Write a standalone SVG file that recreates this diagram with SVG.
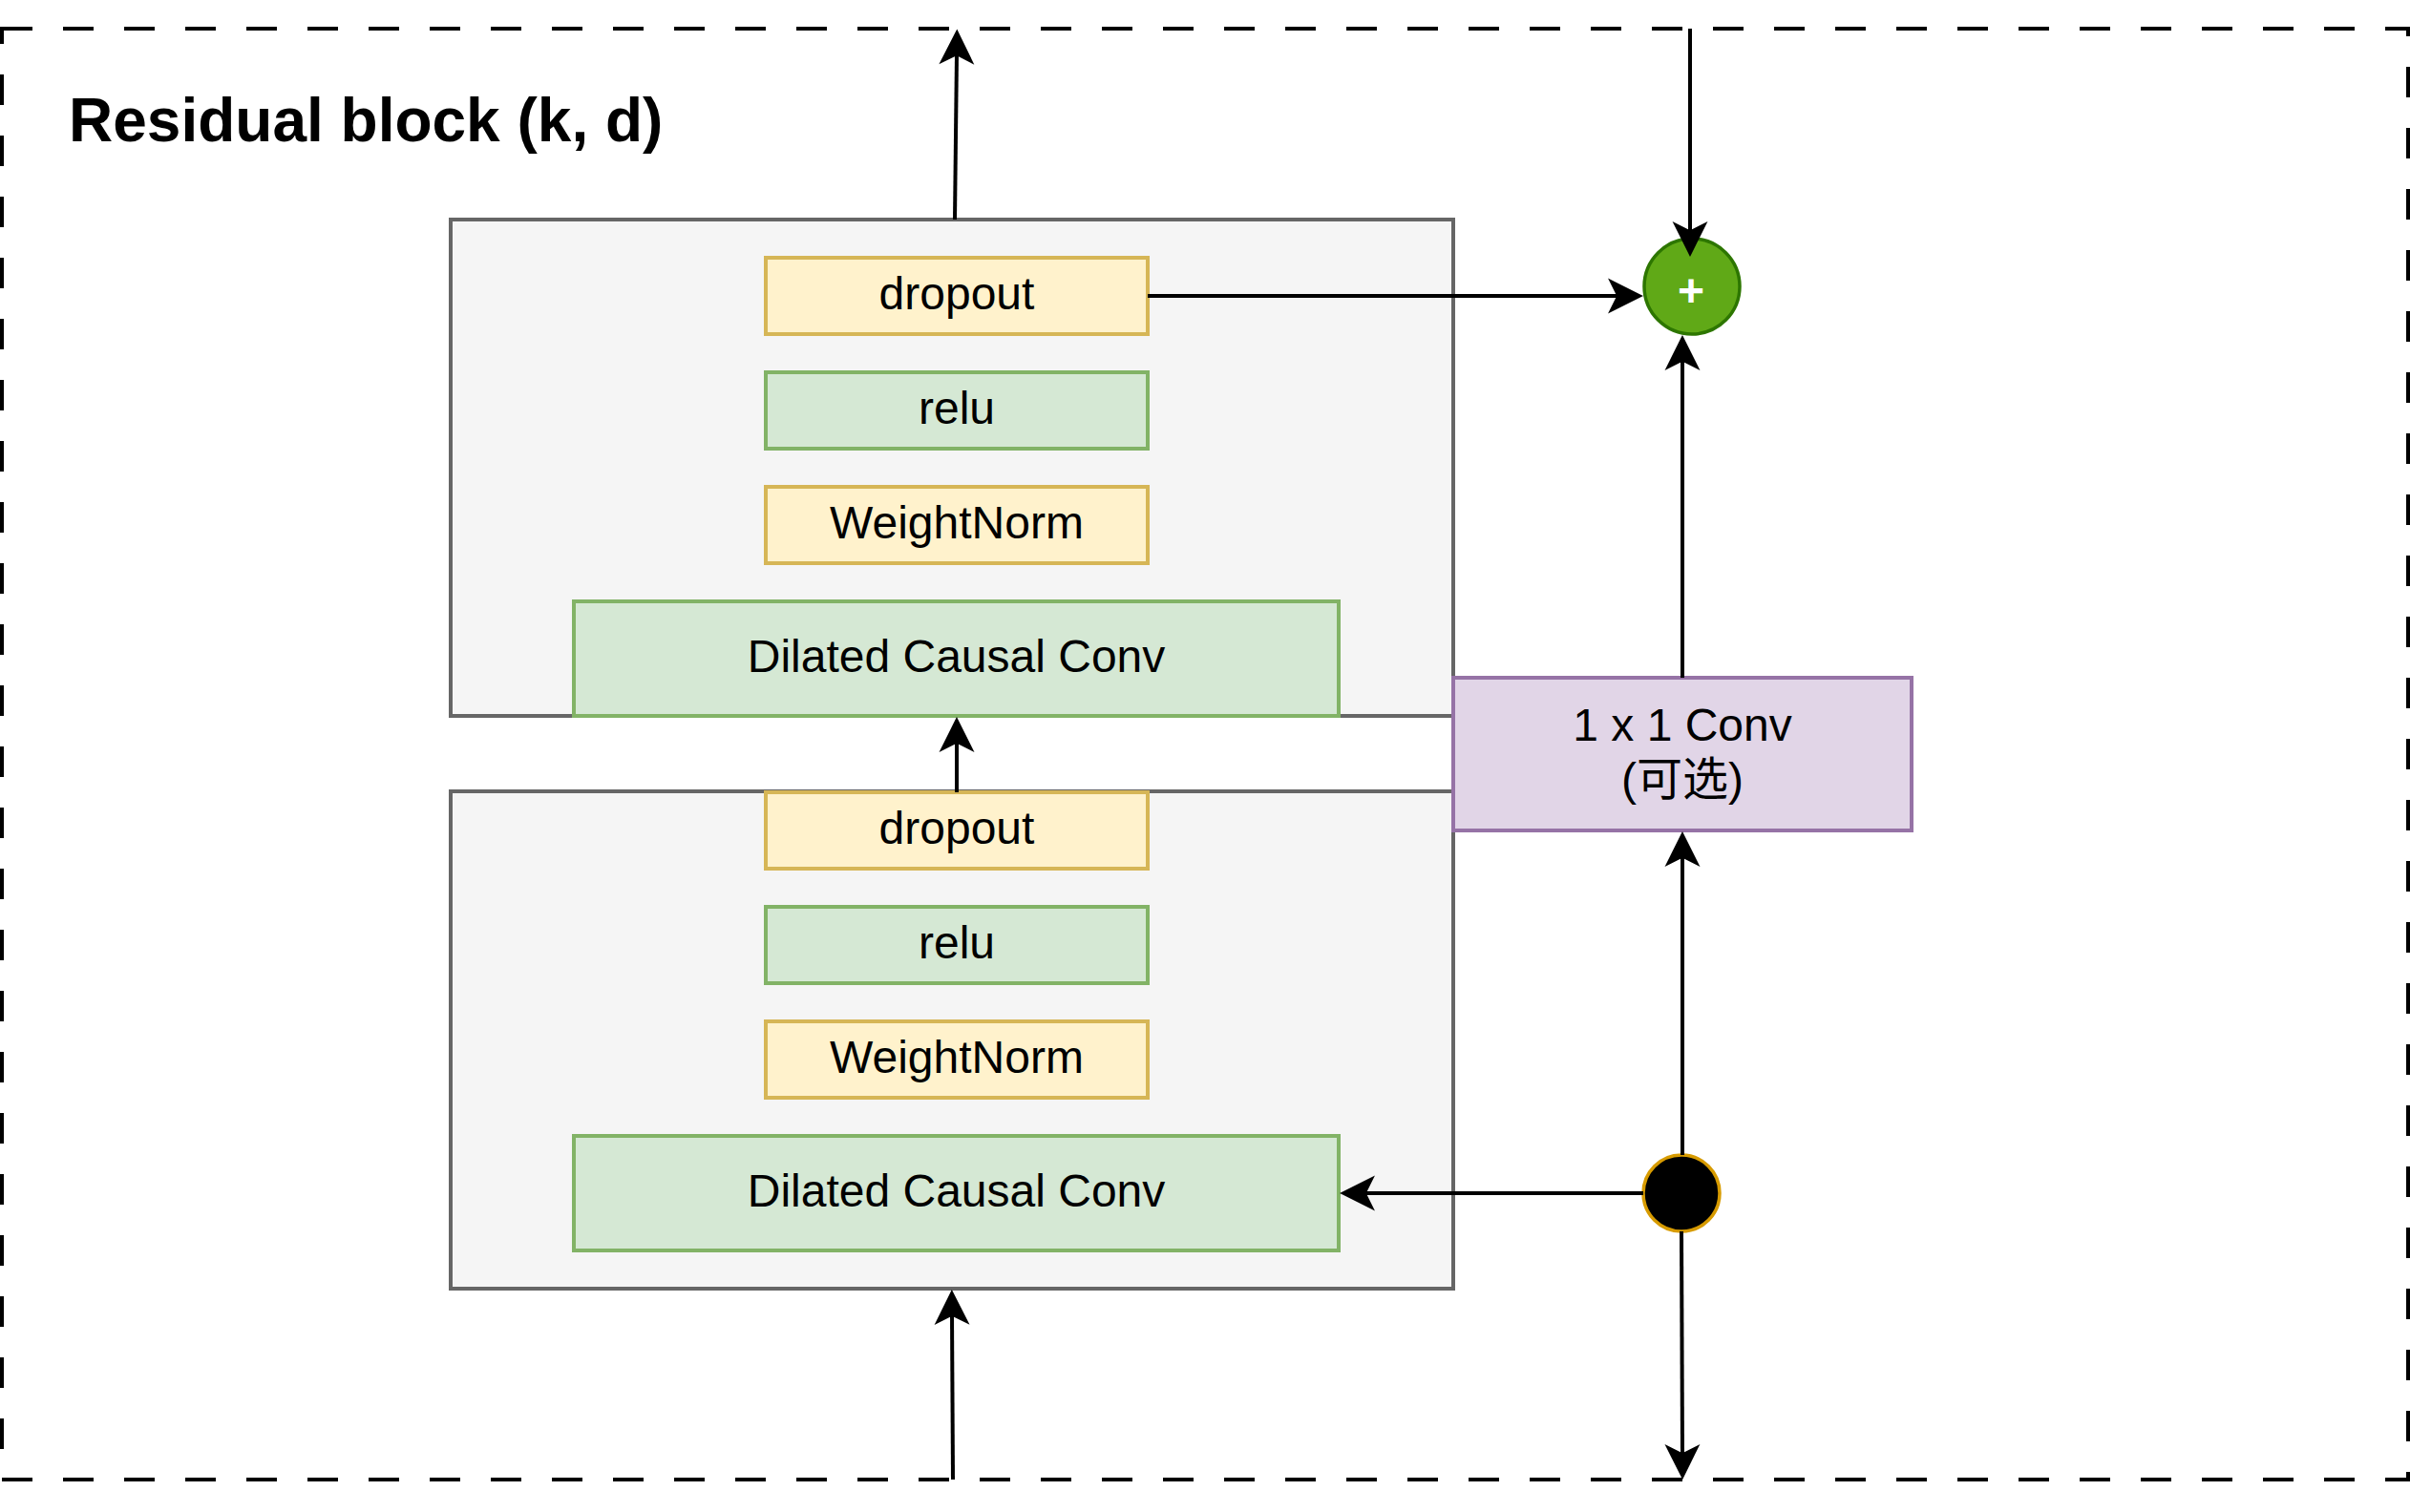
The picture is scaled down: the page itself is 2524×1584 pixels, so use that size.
<svg xmlns="http://www.w3.org/2000/svg" width="2524" height="1584" viewBox="0 0 2524 1584">
  <style>
    .lbl { font-family: "Liberation Sans", Arial, "Noto Sans CJK SC", sans-serif; font-size: 48px; fill: #000000; text-anchor: middle; }
    .title { font-family: "Liberation Sans", Arial, sans-serif; font-size: 64px; font-weight: bold; fill: #000000; }
    .plus { font-family: "Liberation Sans", Arial, sans-serif; font-size: 48px; font-weight: bold; fill: #ffffff; text-anchor: middle; }
    .frame { fill: none; stroke: #000000; stroke-width: 4; stroke-dasharray: 32 32; }
    .gray { fill: #f5f5f5; stroke: #666666; stroke-width: 4; }
    .yellow { fill: #fff2cc; stroke: #d6b656; stroke-width: 4; }
    .green { fill: #d5e8d4; stroke: #82b366; stroke-width: 4; }
    .purple { fill: #e1d5e7; stroke: #9673a6; stroke-width: 4; }
    .add { fill: #60a917; stroke: #2d7600; stroke-width: 3.5; }
    .split { fill: #000000; stroke: #d79b00; stroke-width: 3.5; }
    .edge { fill: none; stroke: #000000; stroke-width: 4; marker-end: url(#arrow); }
  </style>
  <defs>
    <marker id="arrow" markerUnits="userSpaceOnUse" viewBox="-40 -20 45 40" refX="-25.5" refY="0" markerWidth="45" markerHeight="40" orient="auto" overflow="visible">
      <path d="M-4.5,0 L-32.5,-14 L-25.5,0 L-32.5,14 Z" fill="#000000" stroke="#000000" stroke-width="4"/>
    </marker>
  </defs>
  <rect x="0" y="0" width="2524" height="1584" fill="#ffffff"/>

  <g id="residual-block">
    <rect class="frame" x="2" y="30" width="2520" height="1520"/>
    <text class="title" x="72" y="148">Residual block (k, d)</text>
  </g>

  <g id="upper-stack">
    <rect class="gray" x="472" y="230" width="1050" height="520"/>
  </g>
  <g id="lower-stack">
    <rect class="gray" x="472" y="829" width="1050" height="521"/>
  </g>

  <g id="dropout-top">
    <rect class="yellow" x="802" y="270" width="400" height="80"/>
    <text class="lbl" x="1002" y="324">dropout</text>
  </g>
  <g id="relu-top">
    <rect class="green" x="802" y="390" width="400" height="80"/>
    <text class="lbl" x="1002" y="444">relu</text>
  </g>
  <g id="weightnorm-top">
    <rect class="yellow" x="802" y="510" width="400" height="80"/>
    <text class="lbl" x="1002" y="564">WeightNorm</text>
  </g>
  <g id="conv-top">
    <rect class="green" x="601" y="630" width="801" height="120"/>
    <text class="lbl" x="1001.5" y="704">Dilated Causal Conv</text>
  </g>

  <g id="dropout-bottom">
    <rect class="yellow" x="802" y="830" width="400" height="80"/>
    <text class="lbl" x="1002" y="884">dropout</text>
  </g>
  <g id="relu-bottom">
    <rect class="green" x="802" y="950" width="400" height="80"/>
    <text class="lbl" x="1002" y="1004">relu</text>
  </g>
  <g id="weightnorm-bottom">
    <rect class="yellow" x="802" y="1070" width="400" height="80"/>
    <text class="lbl" x="1002" y="1124">WeightNorm</text>
  </g>
  <g id="conv-bottom">
    <rect class="green" x="601" y="1190" width="801" height="120"/>
    <text class="lbl" x="1001.5" y="1264">Dilated Causal Conv</text>
  </g>

  <g id="conv-1x1">
    <rect class="purple" x="1522" y="710" width="480" height="160"/>
    <text class="lbl" x="1762" y="775.5">1 x 1 Conv</text>
    <text class="lbl" x="1762" y="833">(可选)</text>
  </g>

  <g id="add">
    <circle class="add" cx="1772" cy="300" r="50"/>
    <text class="plus" x="1771" y="321">+</text>
  </g>

  <g id="split">
    <circle class="split" cx="1761" cy="1250" r="40"/>
  </g>

  <g id="connectors">
    <path class="edge" d="M1000,230 L1002,56"/>
    <path class="edge" d="M1002,830 L1002,776.5"/>
    <path class="edge" d="M998,1550 L997,1376.5"/>
    <path class="edge" d="M1202,310 L1695.5,310"/>
    <path class="edge" d="M1770,30 L1770,243.5"/>
    <path class="edge" d="M1762,710 L1762,376.5"/>
    <path class="edge" d="M1762,1210 L1762,896.5"/>
    <path class="edge" d="M1721,1250 L1428.5,1250"/>
    <path class="edge" d="M1761,1290 L1762,1524.5"/>
  </g>
</svg>
